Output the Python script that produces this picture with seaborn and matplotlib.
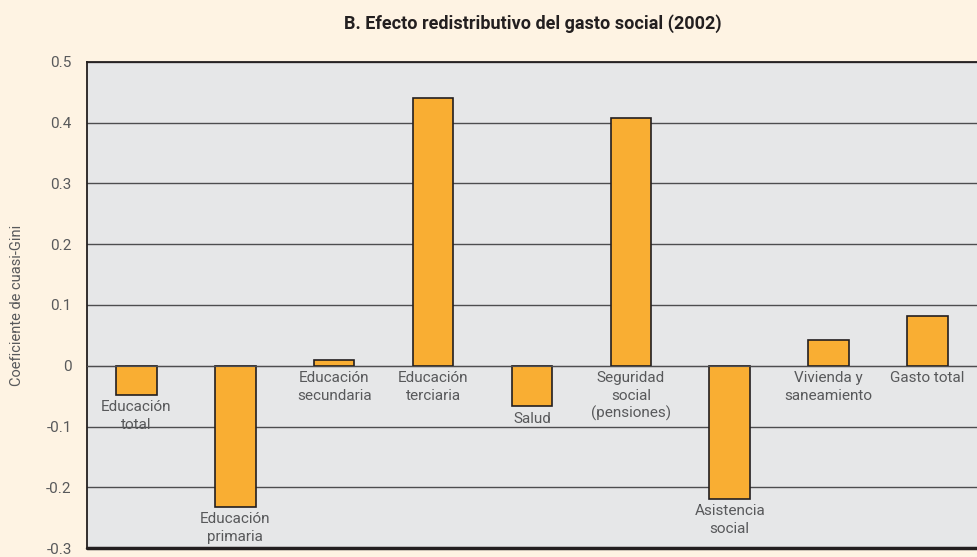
import numpy as np
import matplotlib
matplotlib.use("Agg")
import matplotlib.pyplot as plt
import seaborn as sns

categories = ["Educación\ntotal", "Educación\nprimaria", "Educación\nsecundaria",
              "Educación\nterciaria", "Salud", "Seguridad\nsocial\n(pensiones)",
              "Asistencia\nsocial", "Vivienda y\nsaneamiento", "Gasto total"]
values = [-0.048, -0.232, 0.010, 0.441, -0.067, 0.408, -0.219, 0.042, 0.082]
yticks = [0.5, 0.4, 0.3, 0.2, 0.1, 0, -0.1, -0.2, -0.3]
ytick_labels = ["0.5", "0.4", "0.3", "0.2", "0.1", "0", "-0.1", "-0.2", "-0.3"]

sns.set_style("white")
plt.rcParams['font.family'] = ['Roboto', 'DejaVu Sans']

fig = plt.figure(figsize=(9.77, 5.57), dpi=100, facecolor="#fef3e3")
ax = fig.add_axes([0.089, 0.016, 0.911, 0.873])
ax.set_facecolor("#e6e7e8")

sns.barplot(x=list(range(len(values))), y=values, color="#f9ae33",
            saturation=1, edgecolor="#231f20", linewidth=1.2, width=0.41, ax=ax)

ax.set_ylim(-0.3, 0.5)
ax.set_xlim(-0.5, len(values) - 0.5)
ax.set_yticks(yticks)
ax.set_yticklabels(ytick_labels, color="#58595b", fontsize=11)
ax.yaxis.grid(True, color="#4d4d4f", linewidth=1)
ax.set_axisbelow(True)

# x axis sits on the zero line, ticks between categories
ax.spines['bottom'].set_position(('data', 0))
ax.spines['bottom'].set_color("#4d4d4f")
ax.set_xticks(np.arange(len(values) - 1) + 0.5)
ax.set_xticklabels([])
ax.tick_params(axis='x', direction='out', length=5, color="#4d4d4f", width=1)
ax.tick_params(axis='y', direction='out', length=5, color="#4d4d4f", width=1, pad=6)
for s in ['left', 'top']:
    ax.spines[s].set_color("#231f20")
    ax.spines[s].set_linewidth(1.3)
ax.spines['right'].set_visible(False)
ax.axhline(-0.3, color="#231f20", linewidth=2.5, clip_on=False)

for i, (lab, v) in enumerate(zip(categories, values)):
    ax.text(i, min(v, 0) - 0.009, lab, ha="center", va="top",
            fontsize=11, color="#58595b", linespacing=1.3)

ax.set_xlabel("")
ax.set_ylabel("Coeficiente de cuasi-Gini", color="#58595b", fontsize=10.5, labelpad=16)
fig.suptitle("B. Efecto redistributivo del gasto social (2002)", x=0.545, y=0.975,
             fontsize=13, fontweight="bold", color="#231f20")

fig.savefig("out.png", dpi=100, facecolor=fig.get_facecolor())
